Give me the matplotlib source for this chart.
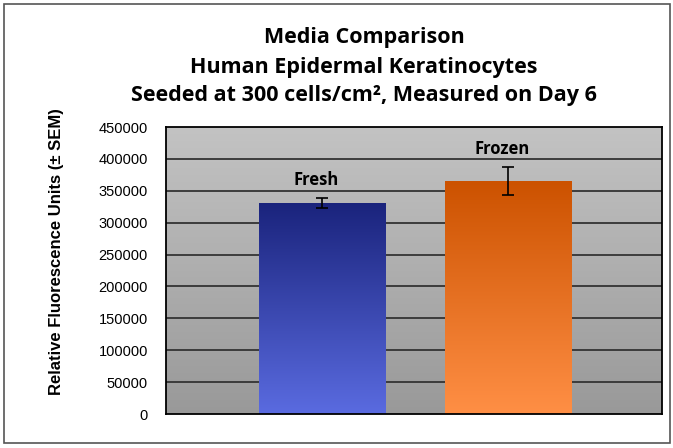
import numpy as np
import matplotlib
matplotlib.use('Agg')
import matplotlib.pyplot as plt
from matplotlib.colors import LinearSegmentedColormap
from matplotlib.patches import Rectangle

# data
labels = ['Fresh', 'Frozen']
values = [331000, 365000]
sem = [7500, 22000]
yticks = np.arange(0, 450001, 50000)

top_cols = ['#1a237c', '#cc5200']
bot_cols = ['#5a6be0', '#ff8f45']

fig = plt.figure(figsize=(6.73, 4.48), dpi=100)
fig.patches.append(Rectangle((0.006, 0.012), 0.99, 0.978, transform=fig.transFigure,
                             fill=False, edgecolor='#555555', lw=1.2))

ax = fig.add_axes([166/673, 1-414/448, (662-166)/673, (414-127)/448])
x = np.arange(len(labels))
xlim = (-0.84, 1.83)
ax.set_xlim(*xlim)
ax.set_ylim(0, 450000)

# gray gradient background
bg = LinearSegmentedColormap.from_list('bg', ['#999999', '#c3c3c3'])
grad = np.linspace(0, 1, 256).reshape(-1, 1)
ax.imshow(grad, cmap=bg, origin='lower', aspect='auto',
          extent=[xlim[0], xlim[1], 0, 450000], zorder=0)

for yv in yticks[1:-1]:
    ax.axhline(yv, color='#333333', lw=1.3, zorder=1)

bars = ax.bar(x, values, width=0.68, color='none', edgecolor='none', zorder=2)
for i, b in enumerate(bars):
    cm = LinearSegmentedColormap.from_list('b%d' % i, [bot_cols[i], top_cols[i]])
    im = ax.imshow(grad, cmap=cm, origin='lower', aspect='auto',
                   extent=[b.get_x(), b.get_x() + b.get_width(), 0, b.get_height()],
                   zorder=2)
    im.set_clip_path(b)

ax.errorbar(x, values, yerr=sem, fmt='none', ecolor='black', elinewidth=1.2,
            capsize=4, capthick=1.2, zorder=3)
for i in range(len(labels)):
    ax.text(x[i] - 0.03, values[i] + sem[i] + 14000, labels[i], ha='center', va='bottom',
            fontsize=12, fontweight='bold', family='Open Sans', zorder=4)

ax.set_xlim(*xlim)
ax.set_ylim(0, 450000)
ax.set_xticks([])
ax.set_yticks(yticks)
ax.set_yticklabels([str(v) for v in yticks], fontsize=10.5, family='Liberation Sans')
ax.tick_params(axis='y', length=0, pad=13)
for s in ax.spines.values():
    s.set_color('black')
    s.set_linewidth(1.3)

fig.text(57/673, 1 - 252/448, 'Relative Fluorescence Units (± SEM)', rotation=90,
         ha='center', va='center', fontsize=12, fontweight='bold',
         family='Liberation Sans')

titles = ['Media Comparison', 'Human Epidermal Keratinocytes',
          'Seeded at 300 cells/cm², Measured on Day 6']
for j, t in enumerate(titles):
    fig.text(364/673, 1 - (38 + 29*j)/448, t, ha='center', va='center',
             fontsize=15.5, fontweight='bold', family='Open Sans')

fig.savefig('out.png', dpi=100)
